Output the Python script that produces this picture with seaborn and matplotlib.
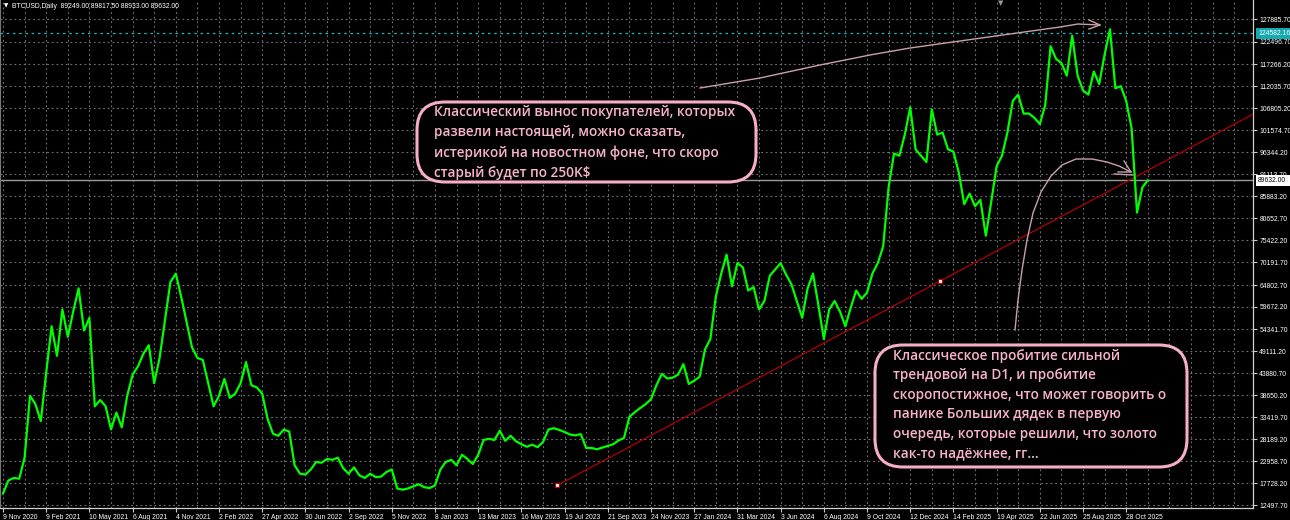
import numpy as np
import pandas as pd
import matplotlib
matplotlib.use("Agg")
import matplotlib.pyplot as plt
import seaborn as sns
from matplotlib.patches import FancyBboxPatch, Rectangle
from matplotlib.transforms import Affine2D

# ---------------- data ----------------
BAR_STEP = 8
close = [
    15300, 18400, 19000, 18800, 23800, 38500, 36500, 32500, 44000,
    55000, 48000, 59000, 52500, 58500, 64000, 54000, 57000,
    36000, 37500, 36000, 30500, 34500, 31000, 38500, 43500,
    45500, 48500, 50500, 41500, 47500, 56500, 65500, 67500,
    62000, 56000, 50000, 47500, 47000, 41500, 36000, 38500,
    42500, 38000, 39000, 41500, 46500, 41000, 40500, 39000,
    33000, 29500, 29000, 30500, 30000, 22000, 20000, 19800,
    21000, 22800, 22600, 23500, 23300, 23800, 21300, 20000,
    21500, 19600, 19000, 20000, 19200, 19300, 20400, 21000,
    16500, 16200, 16500, 17000, 17500, 16800, 16600, 17200,
    21000, 22800, 23300, 22000, 24500, 23500, 22300, 24500,
    28000, 28300, 28000, 30200, 27800, 29000, 27700, 27000,
    26400, 26900, 26300, 27500, 30500, 30800, 30400, 29900,
    29300, 29100, 29400, 26100, 26100, 25800, 26200, 26600,
    27000, 27900, 28500, 33500, 34600, 35600, 36500, 37700,
    41000, 43700, 42600, 42800, 43500, 46000, 41300, 42100,
    43000, 49500, 52000, 62000, 67500, 72000, 64500, 70000,
    69000, 63500, 64300, 59000, 61000, 67000, 68500, 70000,
    67300, 65000, 61000, 57000, 64000, 67500, 60000, 52000,
    59000, 61000, 58500, 55000, 59500, 63500, 61500, 63000,
    67500, 70000, 74000, 88000, 96000, 95500, 100500, 107000,
    97000, 95500, 94000, 106500, 100500, 101000, 97000, 96500,
    91500, 84000, 86500, 83500, 85000, 76500, 84500, 93000,
    95500, 101000, 108500, 110000, 105500, 105500, 104500, 103000,
    107500, 121500, 118500, 117500, 114500, 124000, 114500, 111000,
    110000, 115500, 112500, 119500, 125500, 111500, 112000, 108500,
    102000, 82000, 88000, 89632,
]
bars = list(range(0, BAR_STEP * len(close), BAR_STEP))

date_labels = ["9 Nov 2020", "9 Feb 2021", "10 May 2021", "6 Aug 2021", "4 Nov 2021",
               "2 Feb 2022", "27 Apr 2022", "30 Jun 2022", "2 Sep 2022", "5 Nov 2022",
               "8 Jan 2023", "13 Mar 2023", "16 May 2023", "19 Jul 2023", "21 Sep 2023",
               "24 Nov 2023", "27 Jan 2024", "31 Mar 2024", "3 Jun 2024", "6 Aug 2024",
               "9 Oct 2024", "12 Dec 2024", "14 Feb 2025", "19 Apr 2025", "22 Jun 2025",
               "25 Aug 2025", "28 Oct 2025"]
LABEL_EVERY = 64
GRID_EVERY = 32

price_ticks = [127885.70, 122496.70, 117266.20, 112035.70, 106805.20, 101574.70,
               96344.20, 91113.70, 85883.20, 80652.70, 75422.20, 70191.70, 64802.70,
               59672.20, 54341.70, 49111.20, 43880.70, 38650.20, 33419.70, 28189.20,
               22958.70, 17728.20, 12497.70]

trend_bars = [821, 1388]
trend_prices = [17228, 65700]

alert_level = 124582.16
last_price = 89632.00
title = "BTCUSD,Daily  89249.00 89817.50 88933.00 89632.00"

note1 = ["Классический вынос покупателей, которых",
         "развели настоящей, можно сказать,",
         "истерикой на новостном фоне, что скоро",
         "старый будет по 250K$"]
note2 = ["Классическое пробитие сильной",
         "трендовой на D1, и пробитие",
         "скоропостижное, что может говорить о",
         "панике Больших дядек в первую",
         "очередь, которые решили, что золото",
         "как-то надёжнее, гг..."]

# ---------------- geometry helpers ----------------
W, H = 1290, 520
PX_PER_BAR = 0.675
X0 = 3.0
Y_TOP_PRICE, Y_TOP_PX = 127885.7, 19.3
PRICE_PER_PX = 237.42
PLOT_R, PLOT_B = 1253, 508


def px2bar(x):
    return (x - X0) / PX_PER_BAR


def py2price(y):
    return Y_TOP_PRICE - (y - Y_TOP_PX) * PRICE_PER_PX


ui = ["Liberation Sans", "DejaVu Sans"]
UI_SIZE = 4.9
note_font = ["Open Sans", "Noto Sans", "DejaVu Sans"]

fig = plt.figure(figsize=(W / 100, H / 100), dpi=100, facecolor="black")
ax = fig.add_axes([0, (H - PLOT_B) / H, PLOT_R / W, PLOT_B / H])
ax.set_facecolor("black")
ax.set_xlim(px2bar(0), px2bar(PLOT_R))
ax.set_ylim(py2price(PLOT_B), py2price(0))

pix = Affine2D().scale(1, -1).translate(0, H)  # pixel coords, origin top-left

# grid
grid_kw = dict(color="#707070", lw=0.8, ls=(0, (1.6, 2.6)), zorder=1)
for b in range(0, int(px2bar(PLOT_R)) + 1, GRID_EVERY):
    ax.axvline(b, **grid_kw)
for p in price_ticks:
    ax.axhline(p, **grid_kw)

# levels
ax.axhline(alert_level, color="#1fb8c0", lw=0.9, ls=(0, (2, 3)), zorder=2)
ax.axhline(last_price, color="#9a9a9a", lw=1.0, zorder=2)

# price series
df = pd.DataFrame({"bar": bars, "close": close})
sns.lineplot(data=df, x="bar", y="close", ax=ax, color="#00ff00", lw=1.6, zorder=4)

# trend line (ray)
slope = (trend_prices[1] - trend_prices[0]) / (trend_bars[1] - trend_bars[0])
x_end = px2bar(PLOT_R + 5)
ax.plot([trend_bars[0], x_end], [trend_prices[0], trend_prices[0] + slope * (x_end - trend_bars[0])],
        color="#b00000", lw=0.9, zorder=3)
ax.scatter(trend_bars, trend_prices, marker="s", s=9, facecolor="white",
           edgecolor="#c00000", linewidth=0.8, zorder=5)

# axes styling
ax.yaxis.tick_right()
ax.set_yticks(price_ticks)
ax.set_yticklabels([f"{p:.2f}" for p in price_ticks])
label_bars = [i * LABEL_EVERY for i in range(len(date_labels))]
ax.set_xticks(label_bars)
ax.set_xticklabels(date_labels)
ax.tick_params(axis="both", colors="#c8c8c8", labelcolor="white", labelsize=UI_SIZE,
               length=3, width=0.8, pad=1.5)
for lab in ax.get_xticklabels():
    lab.set_ha("left")
    lab.set_family(ui)
for lab in ax.get_yticklabels():
    lab.set_family(ui)
ax.set_xlabel("")
ax.set_ylabel("")
ax.spines["top"].set_visible(False)
for s in ["right", "bottom"]:
    ax.spines[s].set_color("#d0d0d0")
    ax.spines[s].set_linewidth(0.9)
ax.spines["left"].set_color("#777777")


# value labels on price axis
def tag(y_price, text, fc, tc):
    y = Y_TOP_PX + (Y_TOP_PRICE - y_price) / PRICE_PER_PX
    fig.patches.append(Rectangle((1256, y - 5.5), 35, 11, transform=pix, facecolor=fc,
                                 edgecolor="none", zorder=10, figure=fig))
    fig.text(1258 / W, 1 - y / H, text, color=tc, fontsize=UI_SIZE, family=ui,
             va="center", ha="left", zorder=11)


tag(alert_level, f"{alert_level:.2f}", "#17a9b0", "white")
tag(last_price, f"{last_price:.2f}", "white", "black")

# header
fig.text(4 / W, 1 - 6 / H, "▼", color="white", fontsize=4, family="DejaVu Sans", va="center")
fig.text(12 / W, 1 - 6 / H, title, color="white", fontsize=UI_SIZE, family=ui, va="center")
fig.text(1001 / W, 1 - 3 / H, "▼", color="#9a9a9a", fontsize=5, family="DejaVu Sans",
         va="center", ha="center")

# pink hand-drawn arrows (pixel path)
pink = "#caa0aa"
arrow1 = [(700, 88), (760, 78), (820, 65), (870, 55), (910, 48), (960, 41), (1010, 34),
          (1060, 27), (1078, 24), (1100, 25)]
arrow2 = [(1015, 330), (1018, 300), (1022, 270), (1027, 240), (1033, 213), (1041, 192),
          (1051, 176), (1062, 165), (1076, 159), (1092, 159), (1107, 162), (1119, 166),
          (1131, 172)]
for path, head in [(arrow1, [(1089, 20), (1100, 25), (1089, 29)]),
                   (arrow2, [(1124, 161), (1131, 172), (1118, 172)])]:
    ax.plot([px2bar(x) for x, _ in path], [py2price(y) for _, y in path],
            color=pink, lw=1.0, zorder=6)
    ax.plot([px2bar(x) for x, _ in head], [py2price(y) for _, y in head],
            color=pink, lw=1.0, zorder=6)
ax.plot([px2bar(1114), px2bar(1133)], [py2price(174), py2price(175)], color=pink, lw=1.0, zorder=6)


# note boxes
def note(x0, y0, x1, y1, lines, tx, ty, dy):
    box = FancyBboxPatch((x0, y0), x1 - x0, y1 - y0,
                         boxstyle="round,pad=0,rounding_size=28", transform=pix,
                         facecolor="black", edgecolor="#f6aec4", linewidth=2.2,
                         zorder=20, figure=fig)
    fig.patches.append(box)
    for i, s in enumerate(lines):
        fig.text(tx / W, 1 - (ty + i * dy) / H, s, color="#f8b4c8", fontsize=9.8,
                 family=note_font, fontweight="semibold", va="center", ha="left", zorder=21)


note(417, 102, 756, 182, note1, 434, 112, 20.3)
note(875, 345, 1187, 467, note2, 893, 356, 19.4)

fig.savefig("out.png", dpi=100, facecolor="black")
